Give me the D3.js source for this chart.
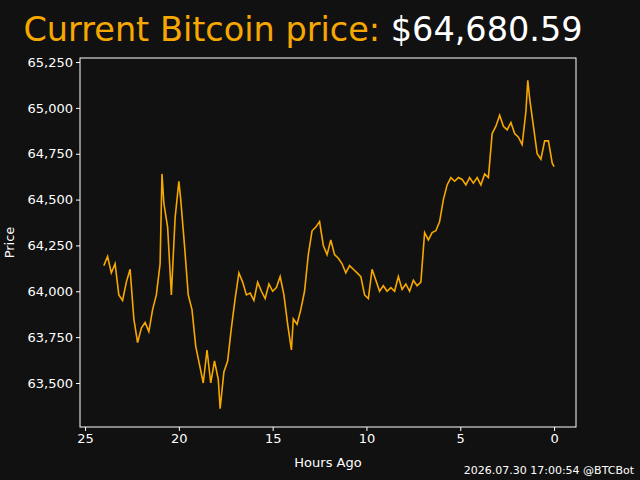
<!DOCTYPE html><html><head><script src="https://cdn.jsdelivr.net/npm/d3@7"></script>
<style>body{margin:0;background:#111}svg{font-family:"DejaVu Sans",sans-serif}</style></head><body>
<script>
const hoursAgo=[24.0,23.8,23.6,23.4,23.2,23.0,22.8,22.6,22.4,22.2,22.0,21.8,21.6,21.4,21.2,21.0,20.9,20.8,20.6,20.4,20.2,20.0,19.9,19.7,19.5,19.3,19.1,18.9,18.7,18.5,18.3,18.1,17.9,17.8,17.6,17.4,17.2,17.0,16.8,16.6,16.4,16.2,16.0,15.8,15.6,15.4,15.2,15.0,14.8,14.6,14.4,14.2,14.0,13.9,13.7,13.5,13.3,13.1,12.9,12.7,12.5,12.3,12.1,11.9,11.7,11.5,11.3,11.1,10.9,10.7,10.5,10.3,10.1,9.9,9.7,9.5,9.3,9.1,8.9,8.7,8.5,8.3,8.1,7.9,7.7,7.5,7.3,7.1,6.9,6.7,6.5,6.3,6.1,5.9,5.7,5.5,5.3,5.1,4.9,4.7,4.5,4.3,4.1,3.9,3.7,3.5,3.3,3.1,2.9,2.7,2.5,2.3,2.1,1.9,1.7,1.5,1.4,1.3,1.1,0.9,0.7,0.5,0.3,0.1,0.0];
const prices=[64140,64190,64100,64150,63980,63950,64050,64120,63850,63720,63800,63830,63780,63900,63980,64150,64640,64480,64350,63980,64400,64600,64500,64250,63980,63900,63700,63600,63500,63680,63500,63620,63520,63360,63560,63620,63800,63960,64100,64050,63980,63990,63950,64050,64000,63960,64040,64000,64020,64080,63980,63820,63680,63850,63820,63900,64000,64200,64330,64350,64380,64250,64200,64280,64200,64180,64150,64100,64140,64120,64100,64080,63980,63960,64120,64060,64000,64030,64000,64020,64000,64080,64010,64040,64000,64060,64030,64050,64320,64280,64320,64330,64380,64500,64580,64620,64600,64620,64610,64580,64620,64590,64620,64580,64640,64620,64860,64900,64960,64900,64880,64920,64860,64840,64800,64980,65150,65050,64900,64750,64720,64820,64820,64700,64680];
const xTicks=[25,20,15,10,5,0];
const yTicks=[63500,63750,64000,64250,64500,64750,65000,65250];
const W=640,H=480,L=80,R=576,T=58,B=427;
const svg=d3.select("body").append("svg").attr("width",W).attr("height",H);
svg.append("rect").attr("width",W).attr("height",H).attr("fill","#111");
const x=d3.scaleLinear().domain([25.27,-1.17]).range([L,R]);
const y=d3.scaleLinear().domain([63260,65272]).range([B,T]);
svg.append("path").datum(hoursAgo.map((h,i)=>[h,prices[i]])).attr("fill","none").attr("stroke","#f7a800").attr("stroke-width",1.6)
 .attr("d",d3.line().x(d=>x(d[0])).y(d=>y(d[1])));
svg.append("rect").attr("x",L).attr("y",T).attr("width",R-L).attr("height",B-T).attr("fill","none").attr("stroke","#fff").attr("stroke-width",1);
const gx=svg.append("g").attr("transform",`translate(0,${B})`).call(d3.axisBottom(x).tickValues(xTicks).tickSize(4).tickPadding(3));
const gy=svg.append("g").attr("transform",`translate(${L},0)`).call(d3.axisLeft(y).tickValues(yTicks).tickFormat(d3.format(",")).tickSize(4).tickPadding(3));
[gx,gy].forEach(g=>{g.select(".domain").remove();g.selectAll("line").attr("stroke","#fff");g.selectAll("text").attr("fill","#fff").attr("font-size",13).attr("font-family","DejaVu Sans");});
svg.append("text").attr("x",(L+R)/2).attr("y",467).attr("text-anchor","middle").attr("fill","#fff").attr("font-size",13).text("Hours Ago");
svg.append("text").attr("transform",`translate(14,${(T+B)/2}) rotate(-90)`).attr("text-anchor","middle").attr("fill","#fff").attr("font-size",13).text("Price");
const t=svg.append("text").attr("x",303).attr("y",41).attr("text-anchor","middle").attr("font-size",33.5);
t.append("tspan").attr("fill","#f7a800").text("Current Bitcoin price: ");
t.append("tspan").attr("fill","#fff").text("$64,680.59");
svg.append("text").attr("x",634).attr("y",474).attr("text-anchor","end").attr("fill","#fff").attr("font-size",11).text("2026.07.30 17:00:54 @BTCBot");
</script></body></html>
